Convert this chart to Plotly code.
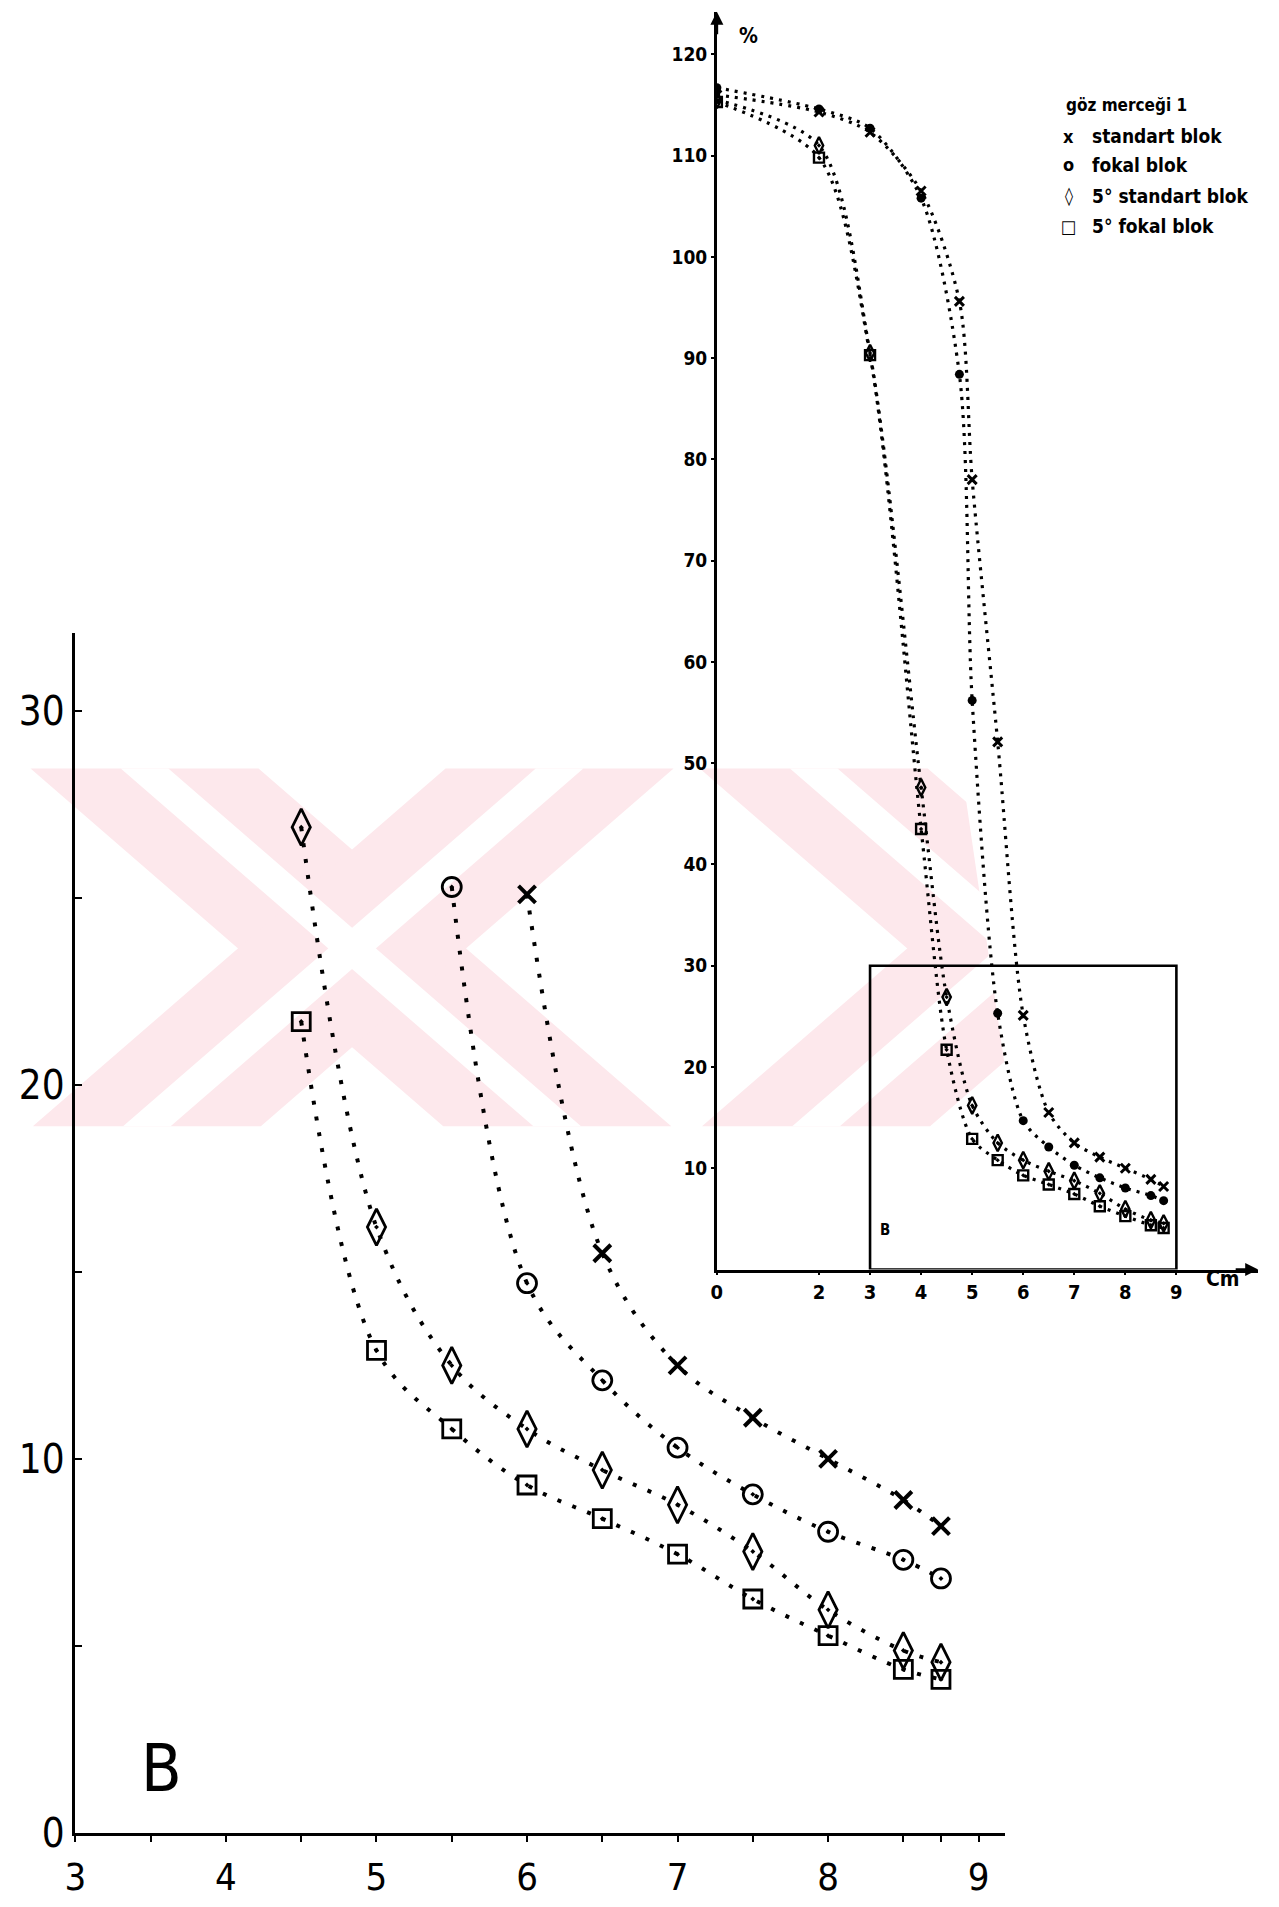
import plotly.graph_objects as go

# ---- measurements: distance (cm) vs relative response (%) ----
x_std = [0, 2, 3, 4, 4.75, 5, 5.5, 6, 6.5, 7, 7.5, 8, 8.5, 8.75]
standart_blok = [116.0, 114.3, 112.3, 106.5, 95.6, 78.0, 52.1, 25.1, 15.5, 12.5, 11.1, 10.0, 8.9, 8.2]
fokal_blok = [116.7, 114.6, 112.7, 105.8, 88.4, 56.2, 25.3, 14.7, 12.1, 10.3, 9.05, 8.05, 7.3, 6.8]

x_5deg = [0, 2, 3, 4, 4.5, 5, 5.5, 6, 6.5, 7, 7.5, 8, 8.5, 8.75]
standart_5 = [115.5, 111.0, 90.5, 47.6, 26.9, 16.2, 12.5, 10.8, 9.7, 8.77, 7.52, 5.96, 4.87, 4.56]
fokal_5 = [115.3, 109.8, 90.3, 43.5, 21.7, 12.9, 10.8, 9.3, 8.4, 7.45, 6.25, 5.27, 4.37, 4.1]

# enlarged window "B" (cm, %)
b_x = [3, 9]
b_y = [0, 30]

# tick labels
big_xticks = [3, 3.5, 4, 4.5, 5, 5.5, 6, 6.5, 7, 7.5, 8, 8.5, 8.75, 9]
big_xlabels = ["3", "", "4", "", "5", "", "6", "", "7", "", "8", "", "", "9"]
big_yticks = [0, 5, 10, 15, 20, 25, 30]
big_ylabels = ["0", "", "10", "", "20", "", "30"]
small_xticks = [0, 2, 3, 4, 5, 6, 7, 8, 9]
small_yticks = [10, 20, 30, 40, 50, 60, 70, 80, 90, 100, 110, 120]

W, H = 1279, 1907
HAND = "Liberation Sans Narrow, DejaVu Sans Condensed, Liberation Sans, sans-serif"
BOLD = "Liberation Sans Narrow, DejaVu Sans Condensed, Liberation Sans, sans-serif"


def px(xp, yp):
    return xp / W, 1 - yp / H


def path(points):
    segs = []
    for i, (a, b) in enumerate(points):
        xx, yy = px(a, b)
        segs.append(("M" if i == 0 else "L") + f"{xx:.5f},{yy:.5f}")
    return " ".join(segs) + " Z"


series = [
    ("standart blok", x_std, standart_blok, "x-thin", "x-thin"),
    ("fokal blok", x_std, fokal_blok, "circle-open-dot", "circle"),
    ("5° standart blok", x_5deg, standart_5, "diamond-tall-open-dot", "diamond-tall-open-dot"),
    ("5° fokal blok", x_5deg, fokal_5, "square-open-dot", "square-open-dot"),
]
big_size = {"x-thin": 17, "circle-open-dot": 19, "diamond-tall-open-dot": 26, "square-open-dot": 18}
big_lw = {"x-thin": 4, "circle-open-dot": 2.8, "diamond-tall-open-dot": 2.8, "square-open-dot": 2.8}
small_size = {"x-thin": 9, "circle": 9, "diamond-tall-open-dot": 12, "square-open-dot": 10}
small_lw = {"x-thin": 3, "circle": 0, "diamond-tall-open-dot": 2.4, "square-open-dot": 2.4}

fig = go.Figure()

# enlarged chart: only the part inside the B window
for name, xs, ys, sym_big, sym_small in series:
    pts = [(a, b) for a, b in zip(xs, ys) if b_x[0] <= a <= b_x[1] and b <= b_y[1]]
    fig.add_trace(go.Scatter(
        x=[p[0] for p in pts], y=[p[1] for p in pts], xaxis="x", yaxis="y",
        mode="lines+markers", name=name, showlegend=False,
        line=dict(color="black", width=4, dash="4px,12px", shape="spline", smoothing=1.0),
        marker=dict(symbol=sym_big, size=big_size[sym_big], color="black",
                    line=dict(color="black", width=big_lw[sym_big])),
    ))

# full-range chart
for name, xs, ys, sym_big, sym_small in series:
    fig.add_trace(go.Scatter(
        x=xs, y=ys, xaxis="x2", yaxis="y2",
        mode="lines+markers", name=name, showlegend=False,
        line=dict(color="black", width=3.2, dash="3px,6px", shape="spline", smoothing=0.8),
        marker=dict(symbol=sym_small, size=small_size[sym_small], color="black",
                    line=dict(color="black", width=small_lw[sym_small])),
    ))

axis_common = dict(showgrid=False, zeroline=False, showline=True, linecolor="black",
                   tickcolor="black", mirror=False, layer="above traces")

x_lo, x_hi = 65, 1003
y_lo, y_hi = 1855, 641
big_scale_x = (976 - 65) / 6.0
big_scale_y = (1855 - 720) / 30.0

sx_lo, sx_hi = 712, 1258
sy_lo, sy_hi = 1285, 12
small_scale_x = 51.5
small_scale_y = 10.25

fig.update_layout(
    width=W, height=H, margin=dict(l=0, r=0, t=0, b=0),
    paper_bgcolor="white", plot_bgcolor="rgba(0,0,0,0)",
    xaxis=dict(axis_common, domain=[x_lo / W, x_hi / W], anchor="y",
               range=[3, 3 + (x_hi - x_lo) / big_scale_x],
               tickmode="array", tickvals=big_xticks, ticktext=big_xlabels,
               ticks="outside", ticklen=7, tickwidth=2, linewidth=2.6,
               tickfont=dict(family=HAND, size=38, color="black"), ticklabelstandoff=2),
    yaxis=dict(axis_common, domain=[1 - y_lo / H, 1 - y_hi / H], anchor="x",
               range=[0, (y_lo - y_hi) / big_scale_y],
               tickmode="array", tickvals=big_yticks, ticktext=big_ylabels,
               ticks="inside", ticklen=7, tickwidth=2, linewidth=2.6,
               tickfont=dict(family=HAND, size=40, color="black")),
    xaxis2=dict(axis_common, domain=[sx_lo / W, sx_hi / W], anchor="y2",
                range=[0, (sx_hi - sx_lo) / small_scale_x],
                tickmode="array", tickvals=small_xticks, ticktext=[str(v) for v in small_xticks],
                ticks="outside", ticklen=3, tickwidth=2, linewidth=2.6,
                tickfont=dict(family=BOLD, size=20, color="black", weight="bold"),
                ticklabelstandoff=0),
    yaxis2=dict(axis_common, domain=[1 - sy_lo / H, 1 - sy_hi / H], anchor="x2",
                range=[0, (sy_lo - sy_hi) / small_scale_y],
                tickmode="array", tickvals=small_yticks, ticktext=[str(v) for v in small_yticks],
                ticks="outside", ticklen=3, tickwidth=2, linewidth=2.6,
                tickfont=dict(family=BOLD, size=19, color="black", weight="bold"),
                ticklabelstandoff=0),
)

# ---- pale background emblem: two crossed double bands ----
PINK = "#fde8ec"
top, bot, mid = 778, 1140, 960
slope = 1.15
half = 115
stripe = 24
shapes = []


def band(cx, sign, hw, color):
    # parallelogram through (cx, mid) leaning with the given sign
    pts = []
    for yy in (top, bot):
        off = sign * slope * (yy - mid)
        pts.append((cx - hw + off, yy))
        pts.append((cx + hw + off, yy))
    poly = [pts[0], pts[1], pts[3], pts[2]]
    shapes.append(dict(type="path", path=path(poly), xref="paper", yref="paper",
                       fillcolor=color, line=dict(width=0), layer="below"))


for cx in (344, 1019):
    band(cx, 1, half, PINK)
    band(cx, -1, half, PINK)
for cx in (344, 1019):
    band(cx, 1, stripe, "white")
    band(cx, -1, stripe, "white")
# right-hand edge of the emblem
shapes.append(dict(type="path", path=path([(958, top - 5), (1279, top - 5), (1279, bot + 5),
                                           (1012, bot + 5)]),
                   xref="paper", yref="paper", fillcolor="white", line=dict(width=0),
                   layer="below"))

# window B drawn on the full-range chart
shapes.append(dict(type="rect", xref="x2", yref="y2", x0=b_x[0], x1=b_x[1], y0=b_y[0], y1=b_y[1],
                   line=dict(color="black", width=2.6), layer="above"))
fig.update_layout(shapes=shapes)

ann = []
# axis arrows of the full-range chart
ann.append(dict(xref="x2", yref="y2", x=0, y=(sy_lo - sy_hi) / small_scale_y, ax=0, ay=24,
                text="", showarrow=True, arrowhead=2,
                arrowsize=1, arrowwidth=2.6, arrowcolor="black"))
ann.append(dict(xref="x2", yref="y2", x=(sx_hi - sx_lo) / small_scale_x, y=0, ax=-24, ay=0,
                text="", showarrow=True, arrowhead=2, arrowsize=1, arrowwidth=2.6,
                arrowcolor="black"))


def label(text, xp, yp, size, family=BOLD, bold=True, anchor="center"):
    x, y = px(xp, yp)
    ann.append(dict(xref="paper", yref="paper", x=x, y=y, text=text, showarrow=False,
                    xanchor=anchor, yanchor="middle",
                    font=dict(family=family, size=size, color="black",
                              weight="bold" if bold else "normal")))


label("%", 744, 36, 21)
label("Cm", 1223, 1295, 21)
label("B", 882, 1245, 15)
label("B", 152, 1790, 66, family=HAND, bold=False)

# key
label("göz merceği 1", 1062, 106, 17, anchor="left")
key_rows = [("x", "standart blok", 138), ("o", "fokal blok", 167),
            ("◊", "5° standart blok", 198), ("□", "5° fokal blok", 229)]
for sym, txt, yy in key_rows:
    label(sym, 1067, yy, 18)
    label(txt, 1088, yy, 19, anchor="left")

fig.update_layout(annotations=ann)
fig.write_html("out.html")
